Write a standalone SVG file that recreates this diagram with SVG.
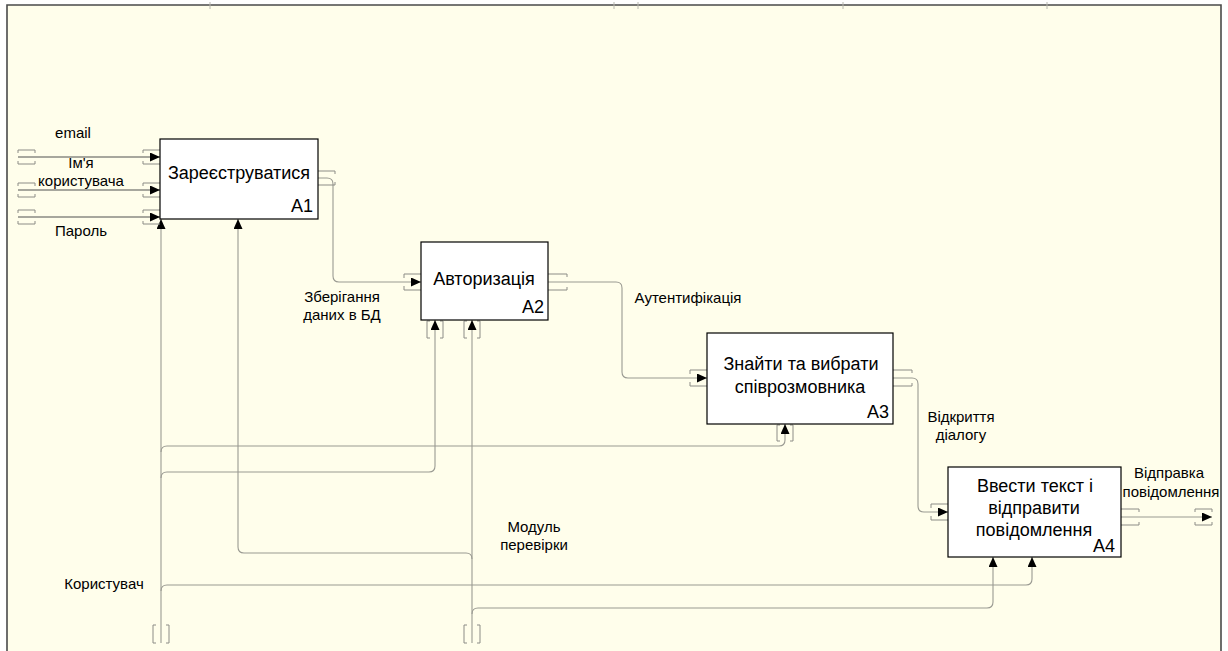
<svg xmlns="http://www.w3.org/2000/svg" width="1228" height="651" viewBox="0 0 1228 651">
  <style>
    .box { fill: #ffffff; stroke: #000000; stroke-width: 1.2; }
    .title { font-family: "Liberation Sans", Arial, sans-serif; font-size: 18px; fill: #000; text-anchor: middle; }
    .num { font-family: "Liberation Sans", Arial, sans-serif; font-size: 18px; fill: #000; text-anchor: end; }
    .lbl { font-family: "Liberation Sans", Arial, sans-serif; font-size: 15px; fill: #000; text-anchor: middle; }
    .wire { fill: none; stroke: #9a9a92; stroke-width: 1.1; marker-end: url(#head); }
    .wire-in { fill: none; stroke: #505050; stroke-width: 1.1; marker-end: url(#head); }
    .plain { fill: none; stroke: #9a9a92; stroke-width: 1.1; }
    .brk { fill: none; stroke: #8c8c86; stroke-width: 1; }
    .frame { fill: none; stroke: #4a4a4a; stroke-width: 1.6; }
    .tick { stroke: #b8b8b0; stroke-width: 1; }
  </style>
  <defs>
    <marker id="head" markerUnits="userSpaceOnUse" markerWidth="11" markerHeight="10" refX="10" refY="4.5" orient="auto">
      <path d="M0,0 L10,4.5 L0,9 Z" fill="#000"/>
    </marker>
  </defs>

  <!-- page and sheet frame -->
  <rect x="0" y="0" width="1228" height="651" fill="#ffffff"/>
  <rect x="7" y="5" width="1214" height="646" fill="#fffeeb"/>
  <path class="frame" d="M7,651 V5 H1221 V651"/>
  <g id="frame-ticks">
    <line class="tick" x1="210" y1="2" x2="210" y2="9"/>
    <line class="tick" x1="614" y1="2" x2="614" y2="9"/>
    <line class="tick" x1="638" y1="2" x2="638" y2="9"/>
    <line class="tick" x1="843" y1="2" x2="843" y2="9"/>
    <line class="tick" x1="1047" y1="2" x2="1047" y2="9"/>
  </g>

  <!-- arrows between activities -->
  <g id="connectors">
    <!-- inputs of A1 -->
    <path class="wire-in" d="M18,157 H160"/>
    <path class="wire-in" d="M18,190 H160"/>
    <path class="wire-in" d="M18,217 H160"/>
    <!-- A1 -> A2 -->
    <path class="wire" d="M318,178 H327 Q333,178 333,184 V276 Q333,282 339,282 H421"/>
    <!-- A2 -> A3 -->
    <path class="wire" d="M548,282 H616 Q622,282 622,288 V372 Q622,378 628,378 H707"/>
    <!-- A3 -> A4 -->
    <path class="wire" d="M893,378 H912 Q918,378 918,384 V506 Q918,512 924,512 H948"/>
    <!-- A4 output -->
    <path class="wire" d="M1121,517 H1212"/>

    <!-- mechanism: user -->
    <path class="wire" d="M161,643 V219"/>
    <path class="wire" d="M161,452 Q161,446 167,446 H779 Q785,446 785,440 V424"/>
    <path class="wire" d="M161,478 Q161,472 167,472 H429 Q435,472 435,466 V320"/>
    <path class="wire" d="M161,591 Q161,585 167,585 H1026 Q1032,585 1032,579 V557"/>

    <!-- mechanism: checking module -->
    <path class="wire" d="M472,643 V320"/>
    <path class="wire" d="M472,559 Q472,553 466,553 H244 Q238,553 238,547 V219"/>
    <path class="wire" d="M472,614 Q472,608 478,608 H987 Q993,608 993,602 V557"/>

    <!-- tunnel brackets, horizontal arrows -->
    <g id="brackets">
      <path class="brk" d="M18,153 V150 H35 V153 M18,161 V164 H35 V161"/>
      <path class="brk" d="M18,186 V183 H35 V186 M18,194 V197 H35 V194"/>
      <path class="brk" d="M18,213 V210 H35 V213 M18,221 V224 H35 V221"/>
      <path class="brk" d="M143,153 V150 H160 M143,161 V164 H160"/>
      <path class="brk" d="M143,186 V183 H160 M143,194 V197 H160"/>
      <path class="brk" d="M143,213 V210 H160 M143,221 V224 H160"/>
      <path class="brk" d="M318,171 H335 V174 M318,185 H335 V182"/>
      <path class="brk" d="M404,278 V274 H421 M404,286 V290 H421"/>
      <path class="brk" d="M548,274 H567 V277 M548,290 H567 V287"/>
      <path class="brk" d="M690,374 V370 H707 M690,382 V386 H707"/>
      <path class="brk" d="M893,370 H912 V373 M893,386 H912 V383"/>
      <path class="brk" d="M931,508 V504 H948 M931,516 V520 H948"/>
      <path class="brk" d="M1121,509 H1139 V512 M1121,525 H1139 V522"/>
      <path class="brk" d="M1195,512 V509 H1212 V512 M1195,522 V525 H1212 V522"/>
      <!-- vertical arrows -->
      <path class="brk" d="M430,321 H427 V338 H430 M440,321 H443 V338 H440"/>
      <path class="brk" d="M467,321 H464 V338 H467 M477,321 H480 V338 H477"/>
      <path class="brk" d="M780,425 H777 V441 H780 M790,425 H793 V441 H790"/>
      <path class="brk" d="M156,625 H153 V643 H156 M166,625 H169 V643 H166"/>
      <path class="brk" d="M467,625 H464 V643 H467 M477,625 H480 V643 H477"/>
    </g>
  </g>

  <!-- arrow labels -->
  <g id="labels">
    <text class="lbl" x="73" y="138">email</text>
    <text class="lbl" x="81" y="168">Ім'я</text>
    <text class="lbl" x="81" y="186">користувача</text>
    <text class="lbl" x="81" y="236">Пароль</text>
    <text class="lbl" x="342" y="302">Зберігання</text>
    <text class="lbl" x="342" y="320">даних в БД</text>
    <text class="lbl" x="688" y="303">Аутентифікація</text>
    <text class="lbl" x="961" y="422">Відкриття</text>
    <text class="lbl" x="961" y="440">діалогу</text>
    <text class="lbl" x="1169" y="478">Відправка</text>
    <text class="lbl" x="1171" y="497">повідомлення</text>
    <text class="lbl" x="534" y="532">Модуль</text>
    <text class="lbl" x="534" y="550">перевірки</text>
    <text class="lbl" x="104" y="589">Користувач</text>
  </g>

  <!-- activities -->
  <g id="A1">
    <rect class="box" x="160" y="139" width="158" height="80"/>
    <text class="title" x="239" y="179">Зареєструватися</text>
    <text class="num" x="313" y="212">A1</text>
  </g>
  <g id="A2">
    <rect class="box" x="421" y="242" width="127" height="78"/>
    <text class="title" x="484" y="285">Авторизація</text>
    <text class="num" x="544" y="313">A2</text>
  </g>
  <g id="A3">
    <rect class="box" x="707" y="333" width="186" height="91"/>
    <text class="title" x="801" y="370">Знайти та вибрати</text>
    <text class="title" x="800" y="393">співрозмовника</text>
    <text class="num" x="889" y="418">A3</text>
  </g>
  <g id="A4">
    <rect class="box" x="948" y="467" width="173" height="90"/>
    <text class="title" x="1035" y="492">Ввести текст і</text>
    <text class="title" x="1034" y="514">відправити</text>
    <text class="title" x="1034" y="536">повідомлення</text>
    <text class="num" x="1115" y="552">A4</text>
  </g>
</svg>
